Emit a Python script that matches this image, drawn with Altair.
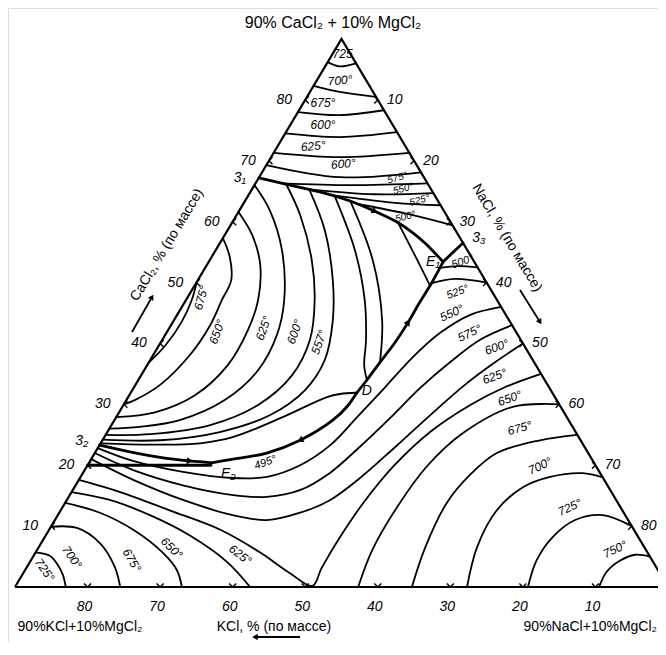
import altair as alt
import pandas as pd

# ---------------------------------------------------------------------------
# Data: compositions as (NaCl %, CaCl2 %);  KCl % = 90 - NaCl - CaCl2
# (every mixture holds 10 % MgCl2, so the three corners are 90 % of a salt)
# ---------------------------------------------------------------------------
frame = [(0, 0), (90, 0), (0, 90), (0, 0)]

# CaCl2 primary field (isotherms near the apex)
ca_725 = [(0, 86.2), (2.0, 85.5), (4.0, 86.0)]
ca_700 = [(0, 82.3), (4.1, 81.3), (9.5, 80.5)]
ca_675 = [(0, 78.0), (6.0, 77.5), (11.7, 78.3)]
ca_650 = [(0, 74.5), (7.85, 73.9), (15.3, 74.7)]
ca_625 = [(0, 71.3), (9.5, 70.6), (18.7, 71.3)]
ca_600 = [(0, 69.3), (11.15, 67.3), (21.9, 68.1)]
ca_575 = [(3.8, 66.3), (13.2, 66.0), (23.7, 66.3)]
ca_550 = [(7.3, 65.4), (17.3, 64.5), (25.3, 64.7)]
ca_525 = [(11.2, 64.4), (20.8, 63.1), (27.3, 62.7)]
ca_500 = [(15.7, 62.9), (23.8, 61.2), (30.6, 59.4)]

# field boundaries
b_31_e1 = [(0, 67.2), (4.9, 66.0), (9.55, 64.9), (14.5, 63.4), (18.75, 61.7), (22.35, 60.1),
           (25.55, 58.3), (28.25, 56.5), (30.5, 54.8), (32.3, 53.4)]
b_33_e1 = [(33.5, 56.5), (32.9, 55.0), (32.3, 53.4)]
b_e1_d = [(32.3, 53.4), (32.45, 50.1), (32.4, 46.8), (32.45, 43.5), (32.3, 40.2), (31.85, 36.9),
          (31.5, 34.0), (31.15, 31.9)]
b_d_e2 = [(31.15, 31.9), (30.95, 29.6), (30.1, 27.4), (27.25, 24.1), (23.7, 22.0), (18.8, 20.85),
          (16.9, 20.4)]
b_32_e2 = [(0, 23.3), (4.75, 22.2), (9.35, 21.3), (13.75, 20.7), (16.9, 20.4)]
b_20 = [(0, 20.0), (17.0, 20.0)]

# compound (KCl-CaCl2) field isotherms
cp_675 = [(0, 50.1), (0.8, 47.1), (1.2, 43.5), (0.9, 39.7), (0, 36.8)]
cp_650 = [(0, 57.3), (2.5, 54.2), (4.6, 50.4), (4.95, 47.1), (5.4, 43.0), (5.05, 38.1), (3.4, 33.2),
          (1.15, 30.7), (0, 30.0)]
cp_625 = [(0, 61.6), (3.8, 57.8), (7.35, 52.9), (9.95, 47.1), (11.0, 42.2), (11.1, 36.45),
          (9.05, 31.5), (4.95, 28.7), (0, 27.9)]
cp_600 = [(0, 66.0), (4.15, 61.9), (9.15, 55.3), (13.55, 47.1), (15.4, 41.4), (15.7, 35.6),
          (13.55, 30.7), (9.0, 27.4), (4.05, 26.3), (0, 26.0)]
cp_557 = [(4.3, 66.15), (8.75, 61.1), (14.05, 53.7), (17.75, 47.1), (20.35, 40.6), (20.8, 34.8),
          (18.55, 29.9), (13.6, 26.6), (6.05, 25.1), (0, 25.0)]
cp_a5 = [(7.9, 65.3), (13.4, 58.6), (18.6, 50.4), (21.9, 43.8), (24.05, 37.3), (23.8, 32.35),
         (21.0, 28.2), (15.5, 25.45), (7.95, 24.1), (0, 24.2)]
cp_a6 = [(12.0, 64.15), (19.2, 55.3), (24.65, 47.1), (28.1, 40.55), (29.9, 36.45), (31.5, 34.0)]
cp_a7 = [(14.5, 63.4), (22.45, 53.7), (28.7, 43.8), (31.85, 36.9)]
cp_a8 = [(23.0, 59.7), (27.85, 54.5), (32.45, 49.5)]
cp_d = [(31.15, 31.9), (28.95, 31.7), (27.4, 31.2), (22.95, 27.9), (17.7, 24.6), (13.7, 23.6),
        (7.0, 23.4), (0, 23.6)]

# KCl-NaCl solid solution field
ss_500 = [(32.4, 52.4), (34.7, 52.7), (37.5, 52.5)]
ss_525 = [(32.5, 49.9), (35.3, 50.6), (40.0, 50.0)]
ss_550 = [(0, 22.8), (5.9, 20.7), (13.7, 18.9), (21.1, 17.9), (25.7, 18.1), (29.3, 20.0), (31.8, 23.3),
          (33.2, 27.9), (34.6, 32.8), (35.9, 37.6), (37.7, 41.7), (40.4, 44.7), (44.0, 46.0)]
ss_575 = [(0, 22.0), (6.7, 19.2), (14.8, 16.7), (22.5, 15.1), (27.3, 14.8), (31.3, 15.9), (34.0, 18.7),
          (36.0, 23.0), (37.8, 27.7), (39.5, 32.7), (41.5, 36.9), (43.8, 40.6), (47.0, 43.0)]
ss_600 = [(0, 21.0), (7.5, 17.6), (16.0, 14.3), (24.1, 11.8), (29.2, 11.0), (33.2, 12.2), (36.3, 14.3),
          (38.6, 17.9), (40.9, 23.0), (43.1, 28.2), (45.4, 33.2), (47.7, 36.9), (50.0, 40.0)]
ss_625 = [(0, 17.6), (6.7, 15.6), (15.0, 12.6), (23.6, 9.4), (30.9, 5.7), (36.7, 2.3), (40.9, 0.2),
          (40.7, 3.1), (40.7, 8.2), (41.1, 13.8), (42.3, 20.0), (44.5, 25.5), (47.8, 29.9),
          (51.1, 32.8), (55.0, 35.0)]
na_650 = [(47.3, 0), (46.2, 6.1), (46.1, 13.1), (46.9, 20.0), (49.1, 25.3), (53.8, 29.6), (60.0, 30.0)]
na_675 = [(54.7, 0), (53.3, 6.4), (52.6, 13.8), (53.5, 18.4), (55.4, 22.0), (60.3, 24.1), (65.0, 25.0)]
na_700 = [(62.3, 0), (60.4, 6.6), (60.1, 12.6), (61.8, 16.4), (64.7, 18.1), (68.9, 18.7), (72.0, 18.0)]
na_725 = [(70.7, 0), (69.7, 4.4), (70.0, 8.2), (71.7, 11.0), (75.1, 11.8), (80.0, 10.0)]
na_750 = [(80.5, 0), (80.3, 2.5), (81.2, 4.3), (82.8, 5.3), (85.0, 5.0)]
k_725 = [(0, 5.7), (2.3, 5.1), (4.1, 3.6), (5.6, 2.0), (7.0, 0)]
k_700 = [(0, 9.9), (3.7, 9.7), (8.1, 7.2), (12.1, 3.3), (14.5, 0)]
k_675 = [(0, 13.8), (5.6, 12.2), (11.6, 9.4), (17.6, 5.6), (20.9, 2.8), (23.0, 0)]
k_650 = [(0, 15.6), (5.9, 14.3), (12.7, 11.8), (19.8, 8.5), (27.2, 4.1), (32.4, 0)]

# direction arrows on the boundary curves: (NaCl, CaCl2, heading deg)
flow_arrows = [(18.75, 61.7, 24), (32.45, 43.5, 303), (27.25, 24.1, 153), (13.75, 20.7, 6)]

# axis tick values
ca_ticks = [10, 20, 30, 40, 50, 60, 70, 80]
na_ticks = [10, 20, 30, 40, 50, 60, 70, 80]
k_ticks = [80, 70, 60, 50, 40, 30, 20, 10]

# isotherm labels: (text, NaCl, CaCl2, angle, font size)
iso_labels = [
    ("725", 1.4, 87.5, 0, 12), ("700°", 3.2, 83.2, 355, 12), ("675°", 2.7, 79.5, 0, 12),
    ("600°", 4.5, 75.9, 0, 12), ("625°", 4.9, 72.4, 355, 12), ("600°", 10.5, 69.5, 355, 12),
    ("575°", 19.1, 67.2, 345, 10), ("550°", 20.8, 65.4, 345, 10), ("525°", 24.0, 63.5, 345, 10),
    ("500°", 23.4, 60.8, 345, 10),
    ("675°", 1.9, 47.5, 285, 12), ("650°", 6.9, 41.9, 290, 12), ("625°", 13.0, 42.5, 290, 12),
    ("600°", 17.6, 41.9, 290, 12), ("557°", 21.8, 40.2, 290, 12),
    ("500°", 35.0, 53.4, 340, 11), ("525°", 36.8, 48.4, 340, 11), ("550°", 37.7, 45.0, 335, 12),
    ("575°", 41.8, 41.7, 335, 12), ("600°", 46.7, 39.4, 340, 12), ("625°", 48.8, 34.6, 340, 12),
    ("650°", 52.7, 31.0, 340, 12), ("675°", 56.5, 26.1, 345, 12), ("700°", 62.4, 19.9, 335, 12),
    ("725°", 69.9, 13.1, 335, 12), ("750°", 79.6, 6.2, 335, 12),
    ("725°", 2.7, 2.8, 55, 12), ("700°", 5.4, 4.9, 55, 12), ("675°", 13.9, 4.4, 60, 12),
    ("650°", 18.4, 6.4, 45, 12), ("625°", 28.4, 5.3, 38, 12),
    ("495°", 24.3, 20.4, 340, 11),
]
point_labels = [("3₁", -2.6, 67.2), ("3₂", -2.8, 24.0), ("3₃", 35.3, 57.3),
                ("E₁", 30.9, 53.4), ("E₂", 20.1, 18.6), ("D", 32.4, 32.2)]

# ---------------------------------------------------------------------------
curves = {
    "frame": (frame, "frame"),
    "ca_725": (ca_725, "iso"), "ca_700": (ca_700, "iso"), "ca_675": (ca_675, "iso"),
    "ca_650": (ca_650, "iso"), "ca_625": (ca_625, "iso"), "ca_600": (ca_600, "iso"),
    "ca_575": (ca_575, "iso"), "ca_550": (ca_550, "iso"), "ca_525": (ca_525, "iso"),
    "ca_500": (ca_500, "iso"),
    "b_31_e1": (b_31_e1, "bound"), "b_33_e1": (b_33_e1, "bound"), "b_e1_d": (b_e1_d, "bound"),
    "b_d_e2": (b_d_e2, "bound"), "b_32_e2": (b_32_e2, "bound"), "b_20": (b_20, "bound"),
    "cp_675": (cp_675, "iso"), "cp_650": (cp_650, "iso"), "cp_625": (cp_625, "iso"),
    "cp_600": (cp_600, "iso"), "cp_557": (cp_557, "iso"), "cp_a5": (cp_a5, "iso"),
    "cp_a6": (cp_a6, "iso"), "cp_a7": (cp_a7, "iso"), "cp_a8": (cp_a8, "iso"), "cp_d": (cp_d, "iso"),
    "ss_500": (ss_500, "iso"), "ss_525": (ss_525, "iso"), "ss_550": (ss_550, "iso"),
    "ss_575": (ss_575, "iso"), "ss_600": (ss_600, "iso"), "ss_625": (ss_625, "iso"),
    "na_650": (na_650, "iso"), "na_675": (na_675, "iso"), "na_700": (na_700, "iso"),
    "na_725": (na_725, "iso"), "na_750": (na_750, "iso"),
    "k_725": (k_725, "iso"), "k_700": (k_700, "iso"), "k_675": (k_675, "iso"), "k_650": (k_650, "iso"),
}


def to_xy(df):
    df["x"] = df["N"] + df["C"] / 2.0
    df["y"] = df["C"]
    return df


rows = []
for name, (pts, kind) in curves.items():
    for i, (n, c) in enumerate(pts):
        rows.append(dict(name=name, kind=kind, seq=i, N=n, C=c))
lines_df = to_xy(pd.DataFrame(rows))

L_PATH, R_PATH, B_PATH = "M1,-1L0,0L1,1", "M-1,-1L0,0L-1,1", "M-1,-1L0,0L1,-1"
tick_rows = ([dict(N=0, C=t, shape=L_PATH, side="l", label=str(t)) for t in ca_ticks]
             + [dict(N=t, C=90 - t, shape=R_PATH, side="r", label=str(t)) for t in na_ticks]
             + [dict(N=90 - t, C=0, shape=B_PATH, side="b", label=str(t)) for t in k_ticks])
ticks_df = to_xy(pd.DataFrame(tick_rows))

iso_df = to_xy(pd.DataFrame(iso_labels, columns=["label", "N", "C", "ang", "fs"]))
pt_df = to_xy(pd.DataFrame(point_labels, columns=["label", "N", "C"]))
arr_df = to_xy(pd.DataFrame(flow_arrows, columns=["N", "C", "ang"]))

# ---------------------------------------------------------------------------
W, H = 650, 634
FONT = "Liberation Sans, DejaVu Sans, sans-serif"
INK = "#000000"
xs = alt.X("x:Q", scale=alt.Scale(domain=[-0.965, 88.62], nice=False, zero=False), axis=None)
ys = alt.Y("y:Q", scale=alt.Scale(domain=[-9.03, 95.09], nice=False, zero=False), axis=None)

base = alt.Chart(lines_df)
frame_layer = base.transform_filter(alt.datum.kind == "frame").mark_line(
    color=INK, strokeWidth=2.2, interpolate="linear").encode(x=xs, y=ys, detail="name:N", order="seq:Q")
iso_layer = base.transform_filter(alt.datum.kind == "iso").mark_line(
    color=INK, strokeWidth=1.8, interpolate="catmull-rom", strokeCap="round").encode(
    x=xs, y=ys, detail="name:N", order="seq:Q")
bound_layer = base.transform_filter(alt.datum.kind == "bound").mark_line(
    color=INK, strokeWidth=2.8, interpolate="catmull-rom", strokeCap="round").encode(
    x=xs, y=ys, detail="name:N", order="seq:Q")

arrow_layer = alt.Chart(arr_df).mark_point(shape="triangle-right", filled=True, color=INK,
                                           size=50, opacity=1).encode(
    x=xs, y=ys, angle=alt.Angle("ang:Q", scale=None))

tick_layer = alt.Chart(ticks_df).mark_point(filled=False, color=INK, strokeWidth=1.4, size=50,
                                            opacity=1).encode(
    x=xs, y=ys, shape=alt.Shape("shape:N", scale=None))

tick_txt = alt.Chart(ticks_df)
tl = tick_txt.transform_filter(alt.datum.side == "l").mark_text(
    font=FONT, fontStyle="italic", fontSize=14, color=INK, dx=-21).encode(x=xs, y=ys, text="label:N")
tr = tick_txt.transform_filter(alt.datum.side == "r").mark_text(
    font=FONT, fontStyle="italic", fontSize=14, color=INK, dx=17).encode(x=xs, y=ys, text="label:N")
tb = tick_txt.transform_filter(alt.datum.side == "b").mark_text(
    font=FONT, fontStyle="italic", fontSize=14, color=INK, dx=-3, dy=20).encode(x=xs, y=ys, text="label:N")

iso_txt = alt.Chart(iso_df).mark_text(font=FONT, fontStyle="italic", color=INK).encode(
    x=xs, y=ys, text="label:N", angle=alt.Angle("ang:Q", scale=None), size=alt.Size("fs:Q", scale=None))
pt_txt = alt.Chart(pt_df).mark_text(font=FONT, fontStyle="italic", fontSize=14, color=INK).encode(
    x=xs, y=ys, text="label:N")

one = alt.Chart(pd.DataFrame({"k": [0]}))


def title(txt, x, y, size=14, angle=0, align="center", style="normal"):
    return one.mark_text(font=FONT, fontSize=size, angle=angle, align=align, fontStyle=style,
                         color=INK).encode(x=alt.value(x), y=alt.value(y), text=alt.value(txt))


def arrow(x1, y1, x2, y2, ang):
    r = one.mark_rule(color=INK, strokeWidth=1.8).encode(
        x=alt.value(x1), y=alt.value(y1), x2=alt.value(x2), y2=alt.value(y2))
    h = one.mark_point(shape="triangle-right", filled=True, color=INK, size=40, angle=ang,
                       opacity=1).encode(x=alt.value(x2), y=alt.value(y2))
    return [r, h]


titles = [
    title("90% CaCl₂ + 10% MgCl₂", 325, 15, size=16),
    title("90%KCl+10%MgCl₂", 72, 619, size=14),
    title("90%NaCl+10%MgCl₂", 649, 619, size=14, align="right"),
    title("KCl, % (по массе)", 266, 619, size=14),
    title("CaCl₂, % (по массе)", 159, 237, size=14, angle=301),
    title("NaCl, % (по массе)", 499, 230, size=14, angle=59),
]
arrows = arrow(292, 629, 247, 629, 180) + arrow(124, 324, 144, 289, 300) + arrow(512, 282, 532, 314, 58)

chart = alt.layer(
    frame_layer, iso_layer, bound_layer, arrow_layer, tick_layer, tl, tr, tb, iso_txt, pt_txt,
    *titles, *arrows
).properties(
    width=W, height=H, padding=0, autosize=alt.AutoSizeParams(type="none")
).configure_view(strokeWidth=0).configure(background="white")

chart.save("out.html", embed_options={"renderer": "svg", "actions": False})
